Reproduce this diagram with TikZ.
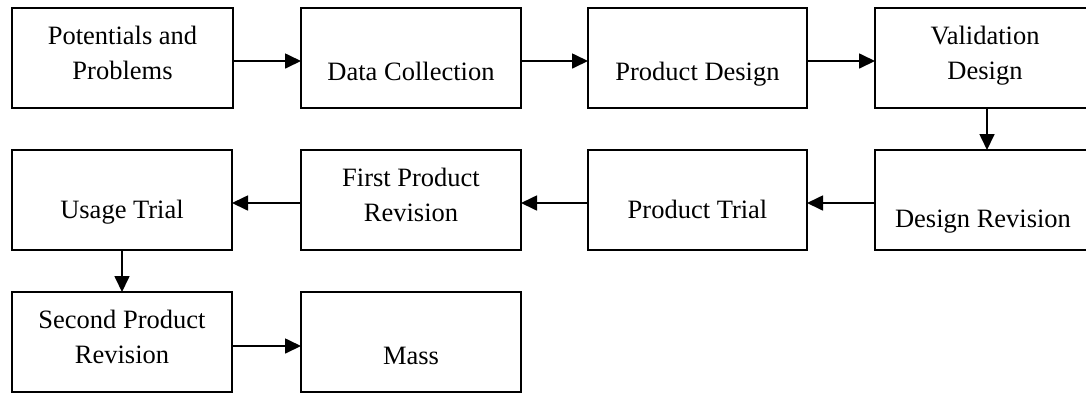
\documentclass[tikz,border=0pt]{standalone}
\usepackage{fontspec}
\setmainfont{Liberation Serif}
\usetikzlibrary{arrows.meta}
\begin{document}
\begin{tikzpicture}[x=1pt,y=-1pt,
  stepbox/.style={draw=black,line width=2.1pt,rectangle,inner sep=0pt,outer sep=0pt,minimum height=100pt},
  lbl/.style={inner sep=0pt,outer sep=0pt,anchor=base,align=center,font=\fontsize{26.5}{35}\selectfont},
  flow/.style={line width=1.7pt,-{Triangle[length=16pt,width=15pt]}}]
\clip (0,0) rectangle (1086,392);
% row 1
\node[stepbox,minimum width=221pt] (b1) at (122.5,58) {};
\node[stepbox,minimum width=220pt] (b2) at (411,58) {};
\node[stepbox,minimum width=219pt] (b3) at (697.5,58) {};
\node[stepbox,minimum width=221pt] (b4) at (985.5,58) {};
% row 2
\node[stepbox,minimum width=220pt] (b5) at (122,200) {};
\node[stepbox,minimum width=220pt] (b6) at (411,200) {};
\node[stepbox,minimum width=219pt] (b7) at (697.5,200) {};
\node[stepbox,minimum width=221pt] (b8) at (985.5,200) {};
% row 3
\node[stepbox,minimum width=220pt] (b9) at (122,342) {};
\node[stepbox,minimum width=220pt] (b10) at (411,342) {};
% texts (base = last line baseline)
\node[lbl] (t1) at (122.5,79) {Potentials and\\Problems};
\node[lbl] (t2) at (411,80) {Data Collection};
\node[lbl] (t3) at (697.5,80) {Product Design};
\node[lbl] (t4) at (985,79) {Validation\\Design};
\node[lbl] (t5) at (122,218) {Usage Trial};
\node[lbl] (t6) at (411,221) {First Product\\Revision};
\node[lbl] (t7) at (697.5,218) {Product Trial};
\node[lbl] (t8) at (983,227) {Design Revision};
\node[lbl] (t9) at (122,363) {Second Product\\Revision};
\node[lbl] (t10) at (411,364) {Mass};
% connectors
\draw[flow] ([yshift=-3pt]b1.east) -- ([yshift=-3pt]b2.west);
\draw[flow] ([yshift=-3pt]b2.east) -- ([yshift=-3pt]b3.west);
\draw[flow] ([yshift=-3pt]b3.east) -- ([yshift=-3pt]b4.west);
\draw[flow] ([xshift=1.5pt]b4.south) -- ([xshift=1.5pt]b8.north);
\draw[flow] ([yshift=-3pt]b8.west) -- ([yshift=-3pt]b7.east);
\draw[flow] ([yshift=-3pt]b7.west) -- ([yshift=-3pt]b6.east);
\draw[flow] ([yshift=-3pt]b6.west) -- ([yshift=-3pt]b5.east);
\draw[flow] (b5.south) -- (b9.north);
\draw[flow] ([yshift=-4pt]b9.east) -- ([yshift=-4pt]b10.west);
\end{tikzpicture}
\end{document}
